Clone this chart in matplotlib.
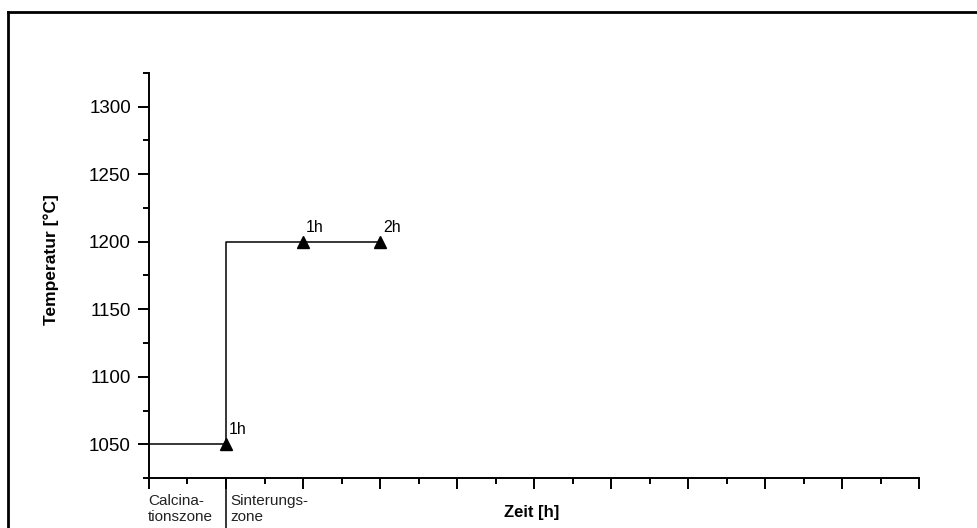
import matplotlib
matplotlib.use("Agg")
import matplotlib.pyplot as plt
from matplotlib.lines import Line2D
from matplotlib.ticker import MultipleLocator
import matplotlib.transforms as mtransforms

plt.rcParams['font.family'] = ['Liberation Sans', 'DejaVu Sans']

# temperature profile (step)
zeit = [0, 1, 1, 3]
temp = [1050, 1050, 1200, 1200]

# marked holding points
mark_x = [1, 2, 3]
mark_y = [1050, 1200, 1200]
mark_txt = ["1h", "1h", "2h"]

zonen = ["Calcina-\ntionszone", "Sinterungs-\nzone"]
zonen_x = [0, 1]

fig = plt.figure(figsize=(9.78, 5.28), dpi=100)
ax = fig.add_axes([149 / 978, 50 / 528, 770 / 978, 405 / 528])

ax.plot(zeit, temp, color="black", lw=1.1)
ax.plot(mark_x, mark_y, "^", color="black", ms=9, clip_on=False)
for x, y, t in zip(mark_x, mark_y, mark_txt):
    ax.annotate(t, (x, y), xytext=(2, 5), textcoords="offset points",
                ha="left", va="bottom", fontsize=11.5)

ax.set_xlim(0, 10)
ax.set_ylim(1025, 1325)
ax.xaxis.set_major_locator(MultipleLocator(1))
ax.xaxis.set_minor_locator(MultipleLocator(0.5))
ax.yaxis.set_major_locator(MultipleLocator(50))
ax.yaxis.set_minor_locator(MultipleLocator(25))
ax.set_xticklabels([])

for s in ["top", "right"]:
    ax.spines[s].set_visible(False)
for s in ["left", "bottom"]:
    ax.spines[s].set_linewidth(1.4)
ax.tick_params(which="major", direction="out", length=8, width=1.4,
               labelsize=13.5, pad=5)
ax.tick_params(which="minor", direction="out", length=4, width=1.4)
ax.tick_params(axis="x", which="both", labelbottom=False)

ax.set_ylabel("Temperatur [°C]", fontsize=12.5, fontweight="bold")
ax.yaxis.set_label_coords(-0.117, 0.54)

# zone separator and zone names under the axis
ax.axvline(1, ymin=-0.125, ymax=0, color="black", lw=1.1, clip_on=False)
trans = mtransforms.blended_transform_factory(ax.transData, ax.transAxes)
for x, t, dx in zip(zonen_x, zonen, [-1, 4]):
    ax.annotate(t, (x, -0.04), xycoords=trans, xytext=(dx * 0.72, 0),
                textcoords="offset points", ha="left", va="top",
                fontsize=11, linespacing=1.2, color="#222222")

fig.text(532 / 978, 1 - 512 / 528, "Zeit [h]", ha="center", va="center",
         fontsize=12, fontweight="bold")

# frame of the original figure (cut off right/bottom)
fig.add_artist(Line2D([8 / 978, 8 / 978], [0, 1 - 12 / 528], color="black", lw=2,
                      transform=fig.transFigure))
fig.add_artist(Line2D([8 / 978, 1], [1 - 12 / 528, 1 - 12 / 528], color="black", lw=2,
                      transform=fig.transFigure))

fig.savefig("out.png", dpi=100)
